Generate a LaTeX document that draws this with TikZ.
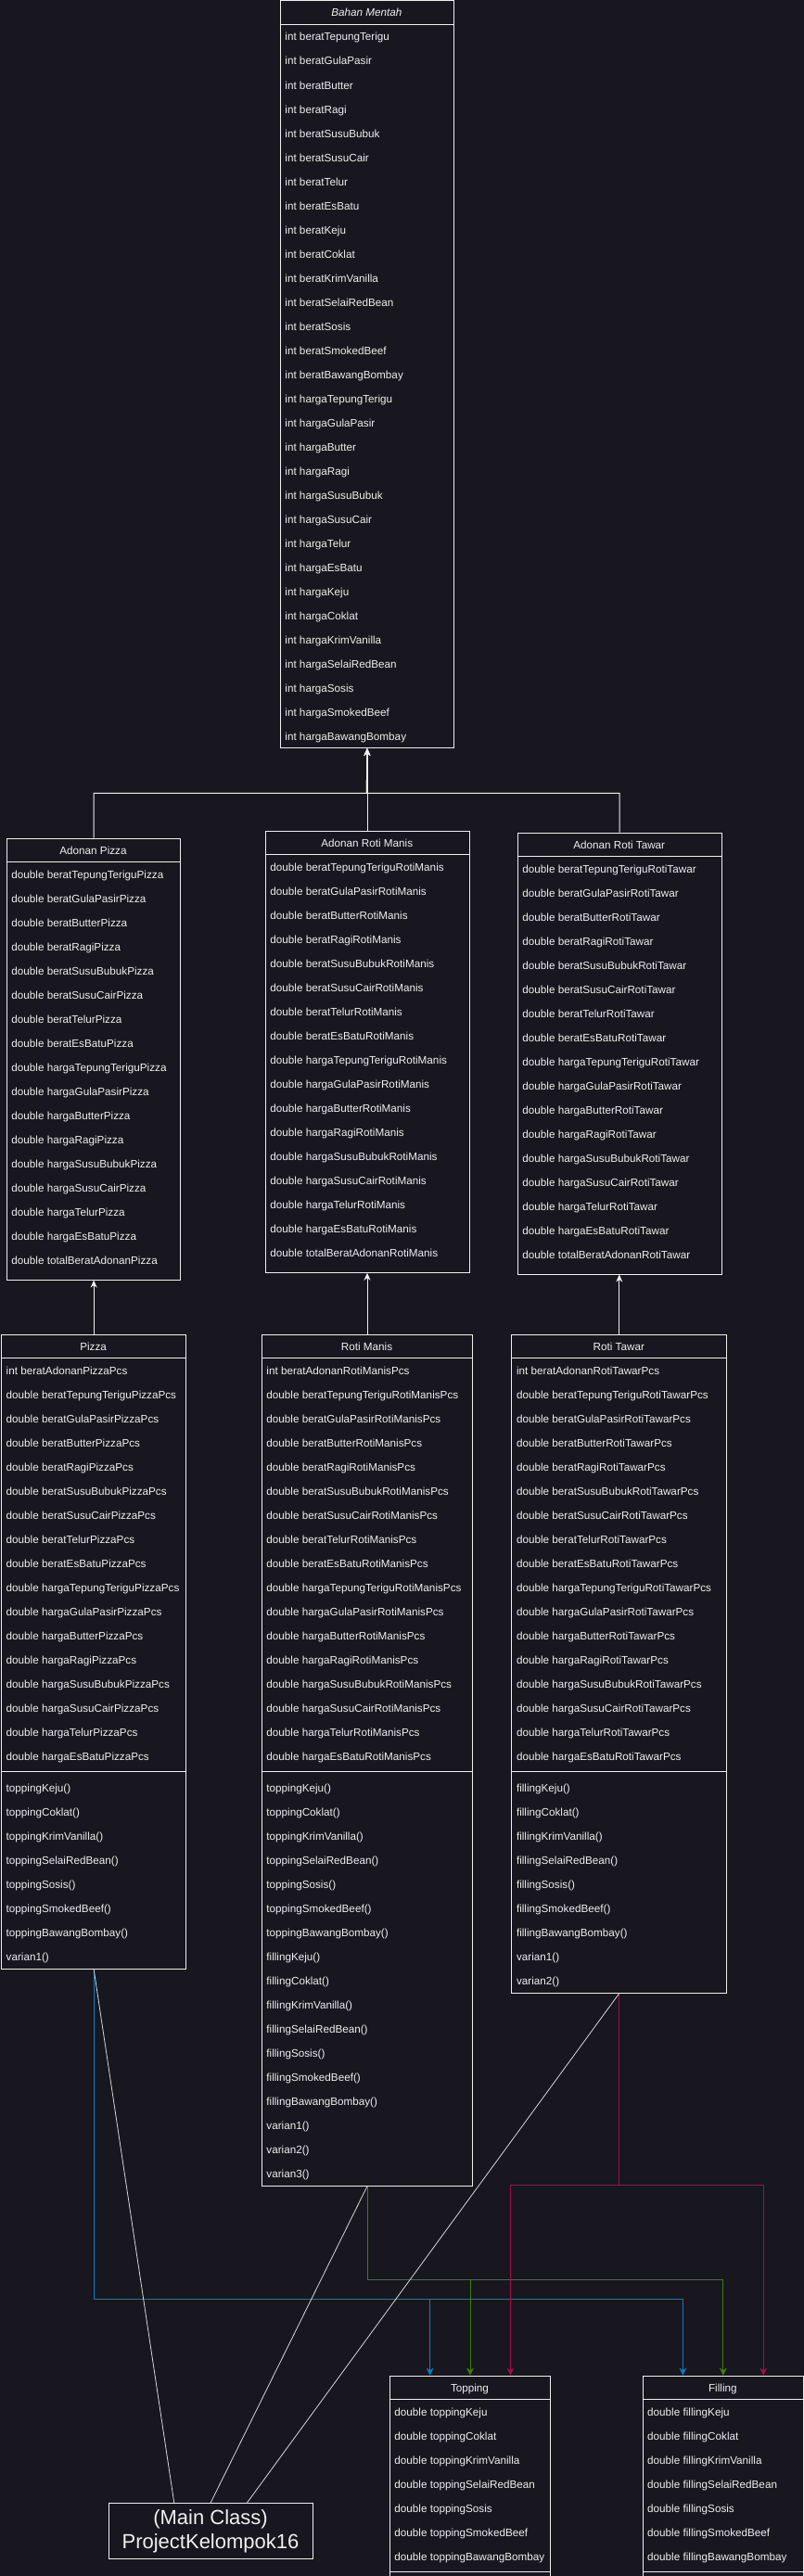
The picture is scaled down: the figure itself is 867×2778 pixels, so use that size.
\documentclass[tikz,border=0pt]{standalone}
\usepackage{fontspec}
\setmainfont{Liberation Sans}
\usetikzlibrary{arrows.meta,calc}
\definecolor{bg}{HTML}{18161E}
\definecolor{fg}{HTML}{F0F0F0}
\definecolor{lnk}{HTML}{D8D8D8}
\definecolor{cblue}{HTML}{0E7CC4}
\definecolor{cgreen}{HTML}{3E7F14}
\definecolor{cred}{HTML}{9E1048}
\tikzset{
 box/.style={draw=fg, line width=1pt, fill=bg, inner sep=0pt, anchor=north west},
 sep/.style={draw=fg, line width=1pt},
 rowtxt/.style={text=fg, anchor=west, inner sep=0pt, text height=9pt, text depth=0pt, font=\fontsize{11.7}{14}\selectfont},
 hdrtxt/.style={text=fg, inner sep=0pt, text height=9pt, text depth=0pt, font=\fontsize{11.7}{14}\selectfont},
 inh/.style={draw=fg, line width=1pt, -{Stealth[length=8pt,width=7pt]}},
 assoc/.style={draw=lnk, line width=0.8pt},
 flow/.style={line width=1pt, -{Stealth[length=8pt,width=8pt]}},
}
\newcommand{\umlclass}[7]{%
  \node[box, minimum width={(#4-#2)*1pt}, minimum height={(#5-#3)*1pt}] (#1) at (#2,#3) {};
  \draw[sep] (#2,{#3+26}) -- (#4,{#3+26});
  \node[hdrtxt] (#1-h) at ({(#2+#4)/2},{#3+13}) {#6};
  \foreach \t [count=\i] in {#7} {\node[rowtxt] (#1-a\i) at ({#2+5.5},{#3+26+(\i-0.5)*26}) {\t};}
}
\newcommand{\umlmethods}[5]{%
  \draw[sep] (#2,#4) -- (#3,#4);
  \foreach \t [count=\i] in {#5} {\node[rowtxt] (#1-m\i) at ({#2+5.5},{#4+4+(\i-0.5)*26}) {\t};}
}
\begin{document}
\begin{tikzpicture}[x=1pt,y=-1pt]
\useasboundingbox (0,0) rectangle (867,2778);
\clip (0,0) rectangle (867,2778);
\fill[bg] (0,0) rectangle (867,2778);

% Bahan Mentah
\umlclass{bm}{301.7}{0.5}{489}{806}{\itshape Bahan Mentah}{int beratTepungTerigu, int beratGulaPasir, int beratButter, int beratRagi, int beratSusuBubuk, int beratSusuCair, int beratTelur, int beratEsBatu, int beratKeju, int beratCoklat, int beratKrimVanilla, int beratSelaiRedBean, int beratSosis, int beratSmokedBeef, int beratBawangBombay, int hargaTepungTerigu, int hargaGulaPasir, int hargaButter, int hargaRagi, int hargaSusuBubuk, int hargaSusuCair, int hargaTelur, int hargaEsBatu, int hargaKeju, int hargaCoklat, int hargaKrimVanilla, int hargaSelaiRedBean, int hargaSosis, int hargaSmokedBeef, int hargaBawangBombay}

% Adonan classes
\umlclass{ap}{6.7}{903.6}{194.3}{1379.6}{Adonan Pizza}{double beratTepungTeriguPizza, double beratGulaPasirPizza, double beratButterPizza, double beratRagiPizza, double beratSusuBubukPizza, double beratSusuCairPizza, double beratTelurPizza, double beratEsBatuPizza, double hargaTepungTeriguPizza, double hargaGulaPasirPizza, double hargaButterPizza, double hargaRagiPizza, double hargaSusuBubukPizza, double hargaSusuCairPizza, double hargaTelurPizza, double hargaEsBatuPizza, double totalBeratAdonanPizza}
\umlclass{arm}{285.7}{895.7}{505.7}{1371.7}{Adonan Roti Manis}{double beratTepungTeriguRotiManis, double beratGulaPasirRotiManis, double beratButterRotiManis, double beratRagiRotiManis, double beratSusuBubukRotiManis, double beratSusuCairRotiManis, double beratTelurRotiManis, double beratEsBatuRotiManis, double hargaTepungTeriguRotiManis, double hargaGulaPasirRotiManis, double hargaButterRotiManis, double hargaRagiRotiManis, double hargaSusuBubukRotiManis, double hargaSusuCairRotiManis, double hargaTelurRotiManis, double hargaEsBatuRotiManis, double totalBeratAdonanRotiManis}
\umlclass{art}{557.7}{897.5}{777.7}{1373.5}{Adonan Roti Tawar}{double beratTepungTeriguRotiTawar, double beratGulaPasirRotiTawar, double beratButterRotiTawar, double beratRagiRotiTawar, double beratSusuBubukRotiTawar, double beratSusuCairRotiTawar, double beratTelurRotiTawar, double beratEsBatuRotiTawar, double hargaTepungTeriguRotiTawar, double hargaGulaPasirRotiTawar, double hargaButterRotiTawar, double hargaRagiRotiTawar, double hargaSusuBubukRotiTawar, double hargaSusuCairRotiTawar, double hargaTelurRotiTawar, double hargaEsBatuRotiTawar, double totalBeratAdonanRotiTawar}

% Product classes
\umlclass{pz}{1}{1438.6}{200.3}{2122.6}{Pizza}{int beratAdonanPizzaPcs, double beratTepungTeriguPizzaPcs, double beratGulaPasirPizzaPcs, double beratButterPizzaPcs, double beratRagiPizzaPcs, double beratSusuBubukPizzaPcs, double beratSusuCairPizzaPcs, double beratTelurPizzaPcs, double beratEsBatuPizzaPcs, double hargaTepungTeriguPizzaPcs, double hargaGulaPasirPizzaPcs, double hargaButterPizzaPcs, double hargaRagiPizzaPcs, double hargaSusuBubukPizzaPcs, double hargaSusuCairPizzaPcs, double hargaTelurPizzaPcs, double hargaEsBatuPizzaPcs}
\umlmethods{pz}{1}{200.3}{1910.6}{toppingKeju(), toppingCoklat(), toppingKrimVanilla(), toppingSelaiRedBean(), toppingSosis(), toppingSmokedBeef(), toppingBawangBombay(), varian1()}

\umlclass{rm}{281.7}{1438.6}{509.3}{2356.6}{Roti Manis}{int beratAdonanRotiManisPcs, double beratTepungTeriguRotiManisPcs, double beratGulaPasirRotiManisPcs, double beratButterRotiManisPcs, double beratRagiRotiManisPcs, double beratSusuBubukRotiManisPcs, double beratSusuCairRotiManisPcs, double beratTelurRotiManisPcs, double beratEsBatuRotiManisPcs, double hargaTepungTeriguRotiManisPcs, double hargaGulaPasirRotiManisPcs, double hargaButterRotiManisPcs, double hargaRagiRotiManisPcs, double hargaSusuBubukRotiManisPcs, double hargaSusuCairRotiManisPcs, double hargaTelurRotiManisPcs, double hargaEsBatuRotiManisPcs}
\umlmethods{rm}{281.7}{509.3}{1910.6}{toppingKeju(), toppingCoklat(), toppingKrimVanilla(), toppingSelaiRedBean(), toppingSosis(), toppingSmokedBeef(), toppingBawangBombay(), fillingKeju(), fillingCoklat(), fillingKrimVanilla(), fillingSelaiRedBean(), fillingSosis(), fillingSmokedBeef(), fillingBawangBombay(), varian1(), varian2(), varian3()}

\umlclass{rt}{551.3}{1438.6}{783.3}{2148.6}{Roti Tawar}{int beratAdonanRotiTawarPcs, double beratTepungTeriguRotiTawarPcs, double beratGulaPasirRotiTawarPcs, double beratButterRotiTawarPcs, double beratRagiRotiTawarPcs, double beratSusuBubukRotiTawarPcs, double beratSusuCairRotiTawarPcs, double beratTelurRotiTawarPcs, double beratEsBatuRotiTawarPcs, double hargaTepungTeriguRotiTawarPcs, double hargaGulaPasirRotiTawarPcs, double hargaButterRotiTawarPcs, double hargaRagiRotiTawarPcs, double hargaSusuBubukRotiTawarPcs, double hargaSusuCairRotiTawarPcs, double hargaTelurRotiTawarPcs, double hargaEsBatuRotiTawarPcs}
\umlmethods{rt}{551.3}{783.3}{1910.6}{fillingKeju(), fillingCoklat(), fillingKrimVanilla(), fillingSelaiRedBean(), fillingSosis(), fillingSmokedBeef(), fillingBawangBombay(), varian1(), varian2()}

% Topping and Filling
\umlclass{tp}{419.7}{2561.5}{593.3}{2810}{Topping}{double toppingKeju, double toppingCoklat, double toppingKrimVanilla, double toppingSelaiRedBean, double toppingSosis, double toppingSmokedBeef, double toppingBawangBombay}
\draw[sep] (419.7,2773.5) -- (593.3,2773.5);
\umlclass{fl}{692.5}{2561.5}{866.2}{2810}{Filling}{double fillingKeju, double fillingCoklat, double fillingKrimVanilla, double fillingSelaiRedBean, double fillingSosis, double fillingSmokedBeef, double fillingBawangBombay}
\draw[sep] (692.5,2773.5) -- (866.2,2773.5);

% Main class
\node[draw=fg, line width=1pt, fill=bg, inner sep=0pt, minimum width=220pt, minimum height=60pt, anchor=north west, align=center, text=fg, font=\fontsize{22}{25.5}\selectfont] (main) at (116.5,2699.3) {(Main Class)\\ProjectKelompok16};

% Inheritance
\coordinate (jn) at (395.35,855.4);
\draw[inh] (ap.north) |- (jn) -- (bm.south);
\draw[inh] (art.north) |- (jn) -- (bm.south);
\draw[inh] (arm.north) -- (arm.north |- bm.south);
\draw[inh] (pz.north) -- (pz.north |- ap.south);
\draw[inh] (rm.north) -- (rm.north |- arm.south);
\draw[inh] (rt.north) -- (rt.north |- art.south);

% Coloured flows
\draw[flow, cblue] (pz.south) -- ++(0,356) -| ($(tp.north)+(-43.4,0)$);
\draw[flow, cblue] (pz.south) -- ++(0,356) -| ($(fl.north)+(-43.4,0)$);
\draw[flow, cgreen] (rm.south) -- ++(0,100.7) -| (tp.north);
\draw[flow, cgreen] (rm.south) -- ++(0,100.7) -| (fl.north);
\draw[flow, cred] (rt.south) -- ++(0,206.4) -| ($(tp.north)+(43.4,0)$);
\draw[flow, cred] (rt.south) -- ++(0,206.4) -| ($(fl.north)+(43.4,0)$);

% Main class links
\draw[assoc] ([xshift=-39.2pt]main.north) -- (pz.south);
\draw[assoc] (main.north) -- (rm.south);
\draw[assoc] ([xshift=39.2pt]main.north) -- (rt.south);
\end{tikzpicture}
\end{document}
